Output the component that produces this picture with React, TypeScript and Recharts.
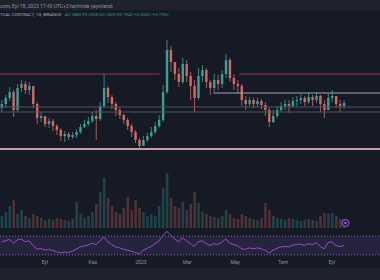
import React from 'react';
import { ComposedChart, Bar, Line, XAxis, YAxis, ReferenceLine, ReferenceArea, ReferenceDot, Cell } from 'recharts';

// ---- data (daily chart sampled every 5 days, day 0 = 1 Sep 2022) ----
const startDay = -55;
const stepDays = 5;
const firstOpen = 0.184;
const closes = [
  0.192, 0.204, 0.216, 0.180, 0.224, 0.232, 0.220, 0.228, 0.192, 0.164,
  0.168, 0.152, 0.158, 0.148, 0.140, 0.128, 0.132, 0.126, 0.130, 0.136,
  0.146, 0.152, 0.158, 0.168, 0.162, 0.188, 0.224, 0.206, 0.192, 0.180,
  0.170, 0.160, 0.148, 0.136, 0.120, 0.108, 0.120, 0.128, 0.136, 0.148,
  0.160, 0.216, 0.300, 0.276, 0.252, 0.236, 0.272, 0.248, 0.228, 0.204,
  0.248, 0.260, 0.236, 0.224, 0.240, 0.232, 0.252, 0.280, 0.244, 0.232,
  0.228, 0.200, 0.192, 0.200, 0.192, 0.198, 0.190, 0.180, 0.156, 0.168,
  0.180, 0.188, 0.192, 0.188, 0.198, 0.200, 0.204, 0.196, 0.206, 0.200,
  0.208, 0.192, 0.180, 0.204, 0.208, 0.192, 0.188, 0.194,
];
const highs = [
  0.200, 0.210, 0.226, 0.220, 0.232, 0.240, 0.238, 0.236, 0.228, 0.196,
  0.176, 0.168, 0.164, 0.162, 0.152, 0.144, 0.138, 0.136, 0.136, 0.142,
  0.152, 0.160, 0.166, 0.176, 0.180, 0.196, 0.252, 0.228, 0.210, 0.196,
  0.184, 0.172, 0.164, 0.152, 0.140, 0.124, 0.128, 0.134, 0.146, 0.156,
  0.170, 0.230, 0.320, 0.308, 0.276, 0.264, 0.284, 0.280, 0.256, 0.240,
  0.264, 0.270, 0.264, 0.240, 0.252, 0.250, 0.260, 0.292, 0.284, 0.252,
  0.240, 0.232, 0.208, 0.206, 0.204, 0.204, 0.202, 0.196, 0.184, 0.180,
  0.188, 0.196, 0.200, 0.200, 0.206, 0.208, 0.212, 0.208, 0.214, 0.210,
  0.216, 0.210, 0.200, 0.212, 0.220, 0.208, 0.200, 0.200,
];
const lows = [
  0.176, 0.184, 0.198, 0.166, 0.176, 0.216, 0.212, 0.210, 0.184, 0.152,
  0.156, 0.146, 0.144, 0.138, 0.130, 0.118, 0.116, 0.120, 0.122, 0.124,
  0.132, 0.144, 0.148, 0.154, 0.120, 0.158, 0.184, 0.194, 0.182, 0.168,
  0.162, 0.152, 0.140, 0.126, 0.114, 0.102, 0.108, 0.116, 0.124, 0.132,
  0.144, 0.156, 0.212, 0.256, 0.240, 0.226, 0.232, 0.236, 0.200, 0.176,
  0.200, 0.236, 0.224, 0.210, 0.216, 0.220, 0.224, 0.244, 0.236, 0.220,
  0.214, 0.188, 0.180, 0.188, 0.184, 0.186, 0.182, 0.168, 0.146, 0.154,
  0.164, 0.176, 0.180, 0.174, 0.184, 0.188, 0.192, 0.188, 0.192, 0.188,
  0.194, 0.176, 0.164, 0.180, 0.196, 0.184, 0.176, 0.182,
];
const volumes = [
  12, 16, 22, 28, 14, 18, 12, 10, 14, 12,
  10, 8, 9, 8, 10, 9, 8, 7, 9, 26,
  14, 10, 12, 16, 24, 36, 50, 30, 22, 16,
  14, 20, 31, 18, 28, 20, 16, 12, 14, 12,
  22, 40, 55, 30, 22, 20, 26, 18, 24, 36,
  25, 16, 14, 12, 11, 10, 12, 18, 14, 10,
  9, 14, 12, 10, 9, 8, 10, 25, 18, 12,
  10, 9, 8, 10, 9, 8, 7, 8, 9, 8,
  7, 12, 15, 14, 15, 12, 9, 8,
];
const rsiValues = [
  58, 60, 63, 55, 62, 64, 58, 60, 50, 42,
  44, 40, 42, 39, 37, 34, 36, 35, 38, 42,
  47, 49, 51, 55, 52, 60, 68, 58, 52, 47,
  45, 42, 40, 38, 35, 32, 40, 44, 48, 54,
  60, 70, 80, 72, 64, 58, 66, 60, 54, 48,
  58, 60, 54, 50, 54, 52, 57, 64, 55, 52,
  50, 43, 42, 45, 43, 45, 43, 40, 34, 40,
  44, 47, 48, 47, 51, 52, 53, 50, 54, 52,
  56, 48, 43, 56, 58, 50, 48, 50,
];
const tickDays = [0, 61, 122, 181, 242, 303, 365];
const tickLabels = ['Eyl', 'Kas', '2023', 'Mar', 'May', 'Tem', 'Eyl'];
// horizontal drawings: price, from day, to day
const levelPrices = [0.252, 0.252, 0.214, 0.186, 0.176, 0.102];
const levelFrom = [-57, 247, 214, -57, -57, -57];
const levelTo = [146, 426, 426, 426, 426, 426];
const levelColors = ['#8a3a4b', '#8a3a4b', '#a3a6b0', '#50545f', '#50545f', '#c79aa6'];
const levelWidths = [1, 1, 1, 1, 1, 2];

const headerLine1 = 'com, Eyl 18, 2023 17:40 UTC+3 tarihinde yayınlandı';
const headerSymbol = 'TUAL CONTRACT, 1G, BINANCE';
const headerValues = 'A0.1880 Y0.2000 D0.1820 K0.1940 +0.0060 (+3.19%)';

const X_DOMAIN: [number, number] = [-57, 426];
const UP = '#3aa094';
const DOWN = '#d16a66';

const candles = closes.map((c, i) => {
  const o = i === 0 ? firstOpen : closes[i - 1];
  return {
    day: startDay + i * stepDays,
    open: o,
    close: c,
    high: highs[i],
    low: lows[i],
    range: [lows[i], highs[i]],
    vol: volumes[i],
    rsi: rsiValues[i],
    up: c >= o,
  };
});

const Candle = (props: any) => {
  const { x, y, width, height, payload } = props;
  if (x == null || y == null) return null;
  const top0 = Math.min(y, y + height);
  const h = Math.abs(height);
  const { open, close, high, low } = payload;
  const color = close >= open ? UP : DOWN;
  const span = high - low || 1;
  const toY = (v: number) => top0 + ((high - v) / span) * h;
  const bt = toY(Math.max(open, close));
  const bb = toY(Math.min(open, close));
  const cx = x + width / 2;
  return (
    <g>
      <line x1={cx} x2={cx} y1={top0} y2={top0 + h} stroke={color} strokeWidth={0.8} />
      <rect x={x} y={bt} width={width} height={Math.max(bb - bt, 0.8)} fill={color} />
    </g>
  );
};

const AxisTick = (props: any) => {
  const { x, y, payload } = props;
  const idx = tickDays.indexOf(payload.value);
  return (
    <text x={x} y={y + 6} textAnchor="middle" fontSize={5} fill="#8e919b" fontFamily="Roboto, sans-serif">
      {idx >= 0 ? tickLabels[idx] : ''}
    </text>
  );
};

const abs = (top: number): React.CSSProperties => ({ position: 'absolute', left: 0, top });

export default function App() {
  return (
    <div style={{ position: 'fixed', left: 0, top: 0, width: 380, height: 280, background: '#161a25', overflow: 'hidden', fontFamily: 'Roboto, sans-serif' }}>
      <div style={{ position: 'absolute', left: 0, top: 0, width: 380, height: 10, background: '#1e222d' }} />
      <div style={{ position: 'absolute', left: 0, top: 268, width: 380, height: 12, background: '#1e222d' }} />
      <svg width={380} height={20} style={abs(0)}>
        <text x={0} y={7.5} fontSize={5} fill="#8e919b" fontFamily="Roboto, sans-serif">{headerLine1}</text>
        <text x={0} y={15.5} fontSize={4.4} fontFamily="Roboto, sans-serif">
          <tspan fill="#a5a8b1">{headerSymbol}</tspan>
          <tspan fill="#2f9c90" dx={3}>{headerValues}</tspan>
        </text>
      </svg>

      {/* price panel */}
      <div style={abs(30)}>
        <ComposedChart width={380} height={130} data={candles} margin={{ top: 0, right: 0, bottom: 0, left: 0 }}>
          <XAxis type="number" dataKey="day" domain={X_DOMAIN} hide allowDataOverflow />
          <YAxis type="number" domain={[0.08, 0.34]} hide allowDataOverflow />
          {levelPrices.map((p, i) => (
            <ReferenceLine
              key={i}
              segment={[{ x: levelFrom[i], y: p }, { x: levelTo[i], y: p }]}
              stroke={levelColors[i]}
              strokeWidth={levelWidths[i]}
              ifOverflow="hidden"
            />
          ))}
          <Bar dataKey="range" barSize={2.4} shape={<Candle />} isAnimationActive={false} />
        </ComposedChart>
      </div>

      {/* volume panel */}
      <div style={abs(168)}>
        <ComposedChart width={380} height={60} data={candles} margin={{ top: 0, right: 0, bottom: 0, left: 0 }}>
          <XAxis type="number" dataKey="day" domain={X_DOMAIN} hide allowDataOverflow />
          <YAxis type="number" domain={[0, 60]} hide allowDataOverflow />
          <Bar dataKey="vol" barSize={2.6} isAnimationActive={false}>
            {candles.map((c, i) => (
              <Cell key={i} fill={c.up ? UP : DOWN} fillOpacity={0.3} />
            ))}
          </Bar>
          <ReferenceDot x={382} y={5} r={3.6} fill="#2a2140" stroke="#9a5ad2" strokeWidth={1} ifOverflow="visible" />
          <ReferenceDot x={382} y={5} r={1.2} fill="#9a5ad2" stroke="none" ifOverflow="visible" />
        </ComposedChart>
      </div>

      {/* RSI panel */}
      <div style={abs(222)}>
        <ComposedChart width={380} height={47} data={candles} margin={{ top: 0, right: 0, bottom: 0, left: 0 }}>
          <XAxis type="number" dataKey="day" domain={X_DOMAIN} hide allowDataOverflow />
          <YAxis type="number" domain={[0, 100]} hide allowDataOverflow />
          <ReferenceArea y1={30} y2={70} fill="#7e57c2" fillOpacity={0.16} stroke="none" />
          <ReferenceLine y={70} stroke="#7d6c9c" strokeDasharray="1 2" />
          <ReferenceLine y={30} stroke="#7d6c9c" strokeDasharray="1 2" />
          <Line dataKey="rsi" stroke="#9450c8" strokeWidth={1} dot={false} isAnimationActive={false} />
        </ComposedChart>
      </div>

      {/* time axis */}
      <div style={abs(254)}>
        <ComposedChart width={380} height={16} data={candles} margin={{ top: 0, right: 0, bottom: 0, left: 0 }}>
          <XAxis
            type="number"
            dataKey="day"
            domain={X_DOMAIN}
            ticks={tickDays}
            tick={<AxisTick />}
            tickLine={false}
            axisLine={false}
            tickSize={0}
            tickMargin={0}
            height={12}
            interval={0}
            allowDataOverflow
          />
          <YAxis hide />
        </ComposedChart>
      </div>
    </div>
  );
}
